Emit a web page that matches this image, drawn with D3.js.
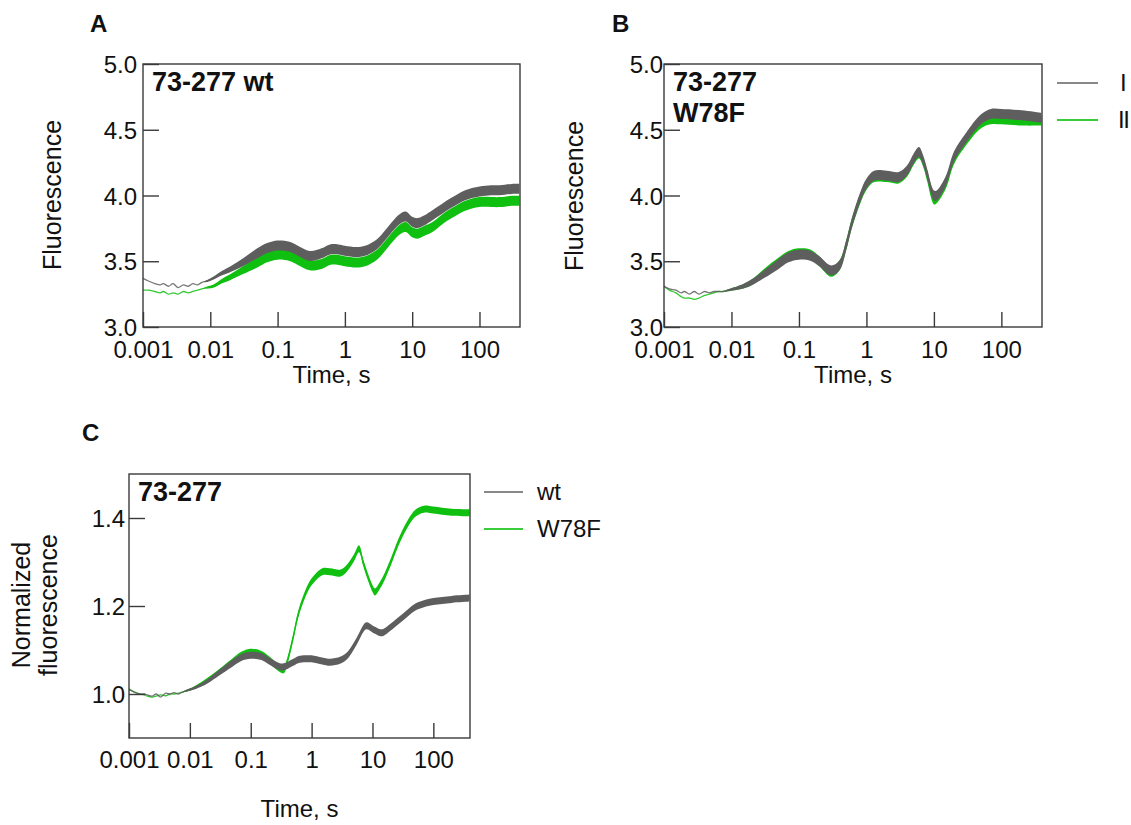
<!DOCTYPE html>
<html>
<head>
<script src="https://d3js.org/d3.v7.min.js" charset="utf-8"></script>
<style>
    body{
        margin:0;
        background:#fff;
        font-family:"Liberation Sans",Arial,sans-serif;
    }
</style>
</head>
<body>
<div id="chart"></div>
<script>
// tick values / labels
var xTicks = [0.001,0.01,0.1,1,10,100]
var xTickLabels = ["0.001","0.01","0.1","1","10","100"]
var yTicksAB = [3.0,3.5,4.0,4.5,5.0]
var yTickLabelsAB = ["3.0","3.5","4.0","4.5","5.0"]
var yTicksC = [1.0,1.2,1.4]
var yTickLabelsC = ["1.0","1.2","1.4"]

// panel A : 73-277 wt, traces I and II
var timesA = [0.001,0.0012,0.0015,0.0018,0.002,0.0024,0.0028,0.0033,0.004,0.0047,0.0055,0.0065,0.0075,0.009,0.011,0.015,0.02,0.03,0.05,0.07,0.1,0.15,0.2,0.3,0.45,0.6,0.8,1,1.5,2,3,4,5,6.5,8,10,12,15,20,30,40,60,100,150,200,300,390]
var wtI  = [3.37,3.35,3.33,3.32,3.33,3.31,3.33,3.30,3.32,3.31,3.33,3.32,3.34,3.35,3.37,3.41,3.44,3.49,3.56,3.60,3.62,3.61,3.58,3.54,3.56,3.59,3.59,3.58,3.57,3.58,3.63,3.70,3.76,3.82,3.84,3.80,3.79,3.81,3.85,3.91,3.95,4.00,4.03,4.04,4.04,4.05,4.05]
var wtII = [3.28,3.28,3.27,3.26,3.27,3.25,3.26,3.25,3.27,3.26,3.27,3.28,3.29,3.30,3.31,3.35,3.38,3.43,3.49,3.53,3.55,3.54,3.51,3.47,3.48,3.51,3.51,3.50,3.49,3.50,3.55,3.62,3.68,3.74,3.76,3.72,3.71,3.73,3.76,3.83,3.87,3.92,3.95,3.95,3.95,3.96,3.96]

// panel B : 73-277 W78F, traces I and II
var timesB = [0.001,0.0012,0.0015,0.0018,0.002,0.0024,0.0028,0.0033,0.004,0.0047,0.0055,0.0065,0.0075,0.009,0.011,0.015,0.02,0.03,0.05,0.07,0.1,0.15,0.2,0.3,0.4,0.5,0.6,0.8,1,1.3,2,3,4,5,6,7,8,10,11,15,20,30,50,70,100,200,390]
var w78fI  = [3.31,3.29,3.28,3.26,3.27,3.25,3.27,3.25,3.27,3.26,3.27,3.27,3.27,3.28,3.29,3.31,3.34,3.40,3.48,3.53,3.55,3.54,3.50,3.43,3.47,3.62,3.78,3.98,4.09,4.15,4.15,4.14,4.19,4.28,4.33,4.26,4.16,4.00,4.00,4.11,4.30,4.44,4.58,4.62,4.62,4.61,4.59]
var w78fII = [3.31,3.28,3.26,3.23,3.22,3.22,3.21,3.22,3.24,3.25,3.26,3.27,3.27,3.28,3.29,3.31,3.34,3.41,3.49,3.54,3.56,3.55,3.50,3.42,3.47,3.62,3.78,3.97,4.08,4.14,4.14,4.13,4.18,4.27,4.32,4.25,4.14,3.97,3.98,4.09,4.28,4.42,4.55,4.58,4.58,4.57,4.57]

// panel C : normalized, wt vs W78F
var timesC = [0.001,0.0012,0.0015,0.0018,0.002,0.0024,0.0028,0.0033,0.004,0.0047,0.0055,0.0065,0.0075,0.009,0.011,0.015,0.02,0.03,0.05,0.07,0.1,0.15,0.2,0.3,0.35,0.4,0.5,0.6,0.8,1,1.5,2,3,4,5,6,7,8,10,11,13,15,20,30,50,70,100,200,390]
var normWt   = [1.01,1.005,1.0,1.0,0.998,0.995,1.0,0.993,1.002,1.0,1.003,1.0,1.004,1.008,1.012,1.02,1.03,1.048,1.07,1.083,1.088,1.085,1.075,1.062,1.062,1.065,1.072,1.078,1.08,1.08,1.075,1.072,1.077,1.09,1.11,1.13,1.148,1.155,1.148,1.145,1.14,1.14,1.152,1.172,1.197,1.205,1.21,1.215,1.218]
var normW78F = [1.012,1.005,1.0,0.998,0.995,0.993,0.995,0.998,0.996,1.0,1.0,1.002,1.004,1.008,1.012,1.022,1.033,1.05,1.073,1.088,1.095,1.09,1.078,1.058,1.055,1.075,1.13,1.18,1.23,1.255,1.278,1.278,1.275,1.29,1.31,1.33,1.30,1.275,1.24,1.232,1.245,1.26,1.30,1.36,1.41,1.42,1.418,1.413,1.412]

var GRAY = "#5e5e5e"
var GREEN = "#10c010"
var FONT = "'Liberation Sans',Arial,sans-serif"

var svg = d3.select("#chart")
    .append("svg")
    .attr("width",1131)
    .attr("height",825)
    .style("display","block")

svg.append("rect").attr("width",1131).attr("height",825).attr("fill","#fff")

// noisy traces get denser (thicker) with log time
function bandW(t,maxW){
    if(t<0.008) return 0
    var f = Math.min(1, Math.log10(t/0.008)/Math.log10(6))
    return 1.5+(maxW-1.5)*f
}

function panel(cfg){
    var x = d3.scaleLog().domain([0.001,400]).range([cfg.left,cfg.right])
    var y = d3.scaleLinear().domain(cfg.yDomain).range([cfg.bottom,cfg.top])
    var g = svg.append("g")
    var curve = d3.curveCatmullRom.alpha(0.5)

    cfg.series.forEach(function(s){
        var pts = s.t.map(function(t,i){ return {t:t, v:s.v[i]} })
        var area = d3.area()
            .x(function(d){ return x(d.t) })
            .y0(function(d){ return y(d.v)-bandW(d.t,cfg.band)/2 })
            .y1(function(d){ return y(d.v)+bandW(d.t,cfg.band)/2 })
            .curve(curve)
        var line = d3.line()
            .x(function(d){ return x(d.t) })
            .y(function(d){ return y(d.v) })
            .curve(curve)
        g.append("path").datum(pts).attr("d",area).attr("fill",s.color)
        g.append("path").datum(pts).attr("d",line).attr("fill","none")
            .attr("stroke",s.color).attr("stroke-width",1.3).attr("opacity",0.85)
    })

    // frame
    g.append("rect")
        .attr("x",cfg.left).attr("y",cfg.top)
        .attr("width",cfg.right-cfg.left).attr("height",cfg.bottom-cfg.top)
        .attr("fill","none").attr("stroke","#3a3a3a").attr("stroke-width",1.4)

    var xa = g.append("g").attr("transform","translate(0,"+cfg.bottom+")")
        .call(d3.axisBottom(x).tickValues(xTicks)
            .tickFormat(function(d,i){ return xTickLabels[i] })
            .tickSizeInner(-15).tickSizeOuter(0))
    xa.select(".domain").remove()
    xa.selectAll("line").attr("stroke","#3a3a3a").attr("stroke-width",1.4)
    xa.selectAll("text").attr("y",cfg.xLabelY).attr("dy",null)
        .attr("font-size",24).attr("font-family",FONT).attr("fill","#111")

    var ya = g.append("g").attr("transform","translate("+cfg.left+",0)")
        .call(d3.axisLeft(y).tickValues(cfg.yTicks)
            .tickFormat(function(d,i){ return cfg.yLabels[i] })
            .tickSizeInner(-16).tickSizeOuter(0).tickPadding(cfg.yPad))
    ya.select(".domain").remove()
    ya.selectAll("line").attr("stroke","#3a3a3a").attr("stroke-width",1.4)
    ya.selectAll("text").attr("dy","0.36em")
        .attr("font-size",24).attr("font-family",FONT).attr("fill","#111")

    // x title
    g.append("text").attr("x",(cfg.left+cfg.right)/2).attr("y",cfg.xTitleY)
        .attr("text-anchor","middle").attr("font-size",24).attr("font-family",FONT)
        .attr("fill","#111").text("Time, s")

    // y title (one or two lines)
    cfg.yTitle.forEach(function(txt,i){
        var tx = cfg.yTitleX[i], ty = cfg.yTitleY
        g.append("text").attr("transform","translate("+tx+","+ty+") rotate(-90)")
            .attr("text-anchor","middle").attr("font-size",25).attr("font-family",FONT)
            .attr("fill","#111").text(txt)
    })

    // inner bold label
    cfg.inner.forEach(function(txt,i){
        g.append("text").attr("x",cfg.left+9).attr("y",cfg.top+27+i*31)
            .attr("font-size",27).attr("font-weight","bold").attr("font-family",FONT)
            .attr("fill","#111").text(txt)
    })

    // panel letter
    g.append("text").attr("x",cfg.letterX).attr("y",cfg.letterY)
        .attr("font-size",24).attr("font-weight","bold").attr("font-family",FONT)
        .attr("fill","#111").text(cfg.letter)

    // legend
    if(cfg.legend){
        cfg.legend.forEach(function(l,i){
            var ly = cfg.legend.y0+i*cfg.legend.dy
            g.append("line").attr("x1",cfg.legend.x1).attr("x2",cfg.legend.x2)
                .attr("y1",ly).attr("y2",ly)
                .attr("stroke",l.color).attr("stroke-width",1.8)
            g.append("text").attr("x",l.tx || cfg.legend.tx).attr("y",ly+8)
                .attr("font-size",24).attr("font-family",FONT).attr("fill","#111")
                .attr("letter-spacing",l.ls || 0)
                .text(l.name)
        })
    }
}

var legAB = [{name:"I",color:"#888",tx:1120},{name:"II",color:"#3bcc3b",tx:1118,ls:-1.5}]
legAB.x1=1057; legAB.x2=1098; legAB.tx=1120; legAB.y0=83; legAB.dy=37

var legC = [{name:"wt",color:"#888"},{name:"W78F",color:"#3bcc3b"}]
legC.x1=484; legC.x2=523; legC.tx=537; legC.y0=492; legC.dy=37

panel({
    left:143, right:520, top:64, bottom:327,
    yDomain:[3,5], yTicks:yTicksAB, yLabels:yTickLabelsAB, yPad:6,
    xLabelY:31, xTitleY:383,
    yTitle:["Fluorescence"], yTitleX:[61], yTitleY:195,
    inner:["73-277 wt"], letter:"A", letterX:90, letterY:32, band:10,
    series:[{t:timesA,v:wtII,color:GREEN},{t:timesA,v:wtI,color:GRAY}]
})

panel({
    left:664, right:1042, top:64, bottom:327,
    yDomain:[3,5], yTicks:yTicksAB, yLabels:yTickLabelsAB, yPad:1,
    xLabelY:31, xTitleY:383,
    yTitle:["Fluorescence"], yTitleX:[583], yTitleY:196,
    inner:["73-277","W78F"], letter:"B", letterX:612, letterY:32, band:10,
    series:[{t:timesB,v:w78fII,color:GREEN},{t:timesB,v:w78fI,color:GRAY}],
    legend:legAB
})

panel({
    left:129, right:470, top:474, bottom:738,
    yDomain:[0.9,1.5], yTicks:yTicksC, yLabels:yTickLabelsC, yPad:4,
    xLabelY:30, xTitleY:817,
    yTitle:["Normalized","fluorescence"], yTitleX:[30,57], yTitleY:605,
    inner:["73-277"], letter:"C", letterX:82, letterY:441, band:7,
    series:[{t:timesC,v:normW78F,color:GREEN},{t:timesC,v:normWt,color:GRAY}],
    legend:legC
})
</script>
</body>
</html>
